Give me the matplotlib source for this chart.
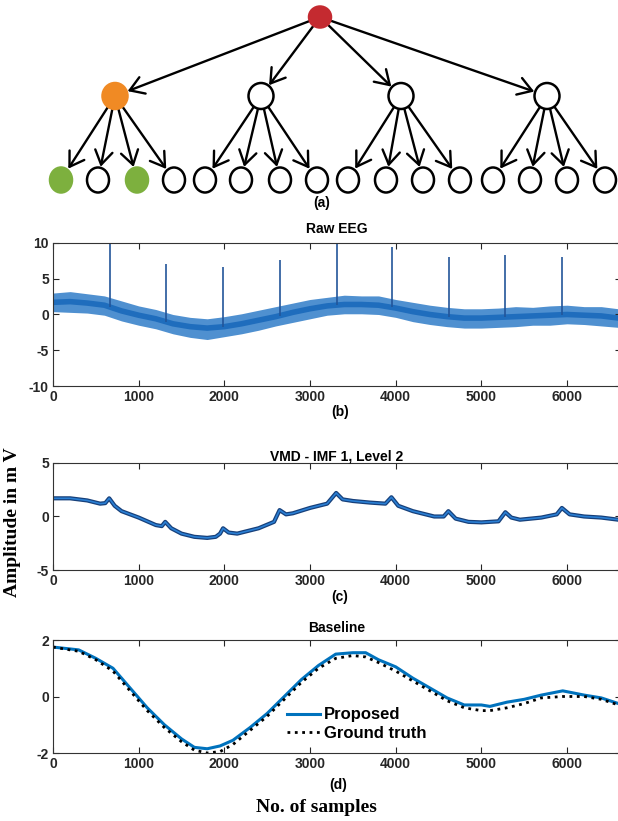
import numpy as np
import matplotlib
matplotlib.use("Agg")
import matplotlib.pyplot as plt
from matplotlib.patches import Ellipse, FancyArrowPatch

plt.rcParams['font.family'] = ['Liberation Sans', 'DejaVu Sans']
plt.rcParams['axes.unicode_minus'] = False

# ---- tree diagram (a) ----
root_xy = (320, 17)
level1_x = [115, 261, 401, 547]
level1_y = 96
leaf_x = [61, 98, 137, 174, 205, 241, 280, 317, 348, 386, 423, 460, 493, 530, 567, 605]
leaf_y = 180
level1_colors = ['#f08a24', 'white', 'white', 'white']
leaf_colors = ['#7db03e', 'white', '#7db03e'] + ['white'] * 13

# ---- raw EEG (b) ----
raw_x = [0, 200, 400, 600, 800, 1000, 1200, 1400, 1600, 1800, 2000, 2200, 2400, 2600, 2800,
         3000, 3200, 3400, 3600, 3800, 4000, 4200, 4400, 4600, 4800, 5000, 5200, 5400, 5600,
         5800, 6000, 6200, 6400, 6600]
raw_mid = [1.7, 1.8, 1.6, 1.3, 0.5, -0.1, -0.6, -1.3, -1.7, -1.9, -1.7, -1.3, -0.8, -0.3, 0.3,
           0.8, 1.2, 1.4, 1.4, 1.3, 0.9, 0.4, 0.0, -0.3, -0.5, -0.5, -0.4, -0.3, -0.2,
           -0.1, 0.0, -0.1, -0.2, -0.5]
raw_hi = [3.0, 3.2, 2.9, 2.6, 1.9, 1.2, 0.7, 0.0, -0.4, -0.6, -0.3, 0.1, 0.6, 1.1, 1.6,
          2.1, 2.4, 2.7, 2.6, 2.6, 2.1, 1.7, 1.3, 1.0, 0.8, 0.8, 0.9, 1.1, 1.0,
          1.2, 1.3, 1.1, 1.1, 0.8]
raw_lo = [0.4, 0.3, 0.2, -0.1, -0.9, -1.5, -2.0, -2.7, -3.2, -3.5, -3.1, -2.7, -2.2, -1.6, -1.1,
          -0.6, -0.1, 0.1, 0.1, 0.0, -0.4, -1.0, -1.4, -1.7, -1.9, -1.9, -1.8, -1.7, -1.5,
          -1.5, -1.3, -1.4, -1.6, -1.8]
spike_x = [660, 1320, 1990, 2650, 3310, 3960, 4620, 5280, 5940]
spike_peak = [10.0, 7.0, 6.7, 7.6, 10.0, 9.5, 8.0, 8.3, 8.0]

# ---- VMD IMF 1, level 2 (c) ----
vmd_x = [0, 200, 400, 550, 610, 656, 720, 800, 1000, 1200, 1270, 1310, 1380, 1500, 1650,
         1800, 1900, 1950, 1985, 2050, 2150, 2400, 2580, 2645, 2720, 2800, 3000, 3200, 3305,
         3380, 3500, 3700, 3880, 3950, 4030, 4200, 4450, 4560, 4615, 4700, 4850, 5000, 5200,
         5280, 5350, 5450, 5700, 5880, 5940, 6030, 6200, 6400, 6600]
vmd_y = [1.7, 1.7, 1.5, 1.2, 1.25, 1.7, 1.0, 0.5, -0.1, -0.8, -0.9, -0.5, -1.1, -1.6, -1.9,
         -2.0, -1.9, -1.6, -1.1, -1.5, -1.6, -1.1, -0.5, 0.6, 0.2, 0.3, 0.8, 1.2, 2.2,
         1.6, 1.45, 1.3, 1.2, 1.8, 1.0, 0.5, 0.0, 0.0, 0.5, -0.2, -0.5, -0.55, -0.45,
         0.4, -0.1, -0.3, -0.1, 0.2, 0.8, 0.2, 0.0, -0.1, -0.3]

# ---- baseline (d) ----
base_x = [0, 300, 500, 700, 900, 1100, 1300, 1500, 1650, 1800, 1950, 2100, 2300, 2500, 2700,
          2900, 3100, 3300, 3500, 3650, 3800, 4000, 4200, 4400, 4600, 4800, 5000, 5100, 5300,
          5500, 5700, 5950, 6200, 6400, 6600]
proposed = [1.75, 1.65, 1.35, 1.0, 0.3, -0.4, -1.0, -1.5, -1.8, -1.85, -1.75, -1.55, -1.1, -0.6, 0.0,
            0.6, 1.1, 1.5, 1.55, 1.55, 1.3, 1.05, 0.65, 0.3, -0.05, -0.3, -0.3, -0.35, -0.2,
            -0.1, 0.05, 0.2, 0.05, -0.05, -0.25]
ground_truth = [1.75, 1.6, 1.3, 0.9, 0.2, -0.5, -1.1, -1.6, -1.9, -2.0, -1.95, -1.7, -1.2, -0.7, -0.1,
                0.5, 1.0, 1.35, 1.45, 1.4, 1.2, 0.9, 0.55, 0.2, -0.15, -0.4, -0.5, -0.5, -0.4,
                -0.25, -0.05, 0.0, 0.0, -0.1, -0.3]

x_ticks = [0, 1000, 2000, 3000, 4000, 5000, 6000]
blue = '#0072BD'

W, H = 618, 821
fig = plt.figure(figsize=(W / 100, H / 100), dpi=100)

# tree axes in pixel coordinates
tree_h = 215
axt = fig.add_axes([0, 1 - tree_h / H, 1, tree_h / H])
axt.set_xlim(0, W)
axt.set_ylim(tree_h, 0)
axt.axis('off')


def draw_node(ax, xy, w, h, color):
    ax.add_patch(Ellipse(xy, w, h, facecolor=color, edgecolor='black' if color == 'white' else color,
                         lw=1.8, zorder=3))


def draw_edge(ax, p, c, rp, rc):
    p = np.array(p, float)
    c = np.array(c, float)
    d = (c - p) / np.linalg.norm(c - p)
    a = FancyArrowPatch(p + d * rp, c - d * (rc + 1), arrowstyle='->,head_length=0.55,head_width=0.35',
                        mutation_scale=18, lw=1.7, color='black', shrinkA=0, shrinkB=0, zorder=2)
    ax.add_patch(a)


draw_node(axt, root_xy, 22, 21, '#c42a30')
for i, mx in enumerate(level1_x):
    draw_edge(axt, root_xy, (mx, level1_y), 11, 12.5)
    draw_node(axt, (mx, level1_y), 25, 26, level1_colors[i])
    for j in range(4):
        lx = leaf_x[i * 4 + j]
        draw_edge(axt, (mx, level1_y), (lx, leaf_y), 12.5, 12.5)
for k, lx in enumerate(leaf_x):
    draw_node(axt, (lx, leaf_y), 22, 25, leaf_colors[k])
axt.text(322, 203, '(a)', ha='center', va='center', fontsize=10, fontweight='bold')

left = 53 / W
width = (621 - 53) / W


def style_axes(ax, ylim, yticks):
    ax.set_xlim(0, 6630)
    ax.set_ylim(*ylim)
    ax.set_xticks(x_ticks)
    ax.set_yticks(yticks)
    ax.tick_params(direction='in', length=4, width=0.8, top=True, right=True,
                   labelsize=10, pad=3, colors='#262626')
    for lab in ax.get_xticklabels() + ax.get_yticklabels():
        lab.set_fontweight('bold')
    for s in ax.spines.values():
        s.set_color('#333333')
        s.set_linewidth(0.8)


# (b) raw EEG
axb = fig.add_axes([left, 1 - 386 / H, width, (386 - 243) / H])
axb.fill_between(raw_x, raw_lo, raw_hi, color='#4f90d0', lw=0)
axb.plot(raw_x, raw_mid, color='#1f6dbd', lw=4, solid_capstyle='butt')
spike_base = np.interp(spike_x, raw_x, raw_mid)
axb.vlines(spike_x, spike_base, spike_peak, color='#22559a', lw=1.2)
style_axes(axb, (-10, 10), [-10, -5, 0, 5, 10])
axb.set_title('Raw EEG', fontsize=10, fontweight='bold', pad=7)
fig.text(340 / W, 1 - 412 / H, '(b)', ha='center', va='center', fontsize=10, fontweight='bold')

# (c) VMD
axc = fig.add_axes([left, 1 - 570 / H, width, (570 - 463) / H])
axc.plot(vmd_x, vmd_y, color='#17407a', lw=3.0, solid_joinstyle='round')
axc.plot(vmd_x, vmd_y, color='#2a7fd4', lw=1.2, solid_joinstyle='round')
style_axes(axc, (-5, 5), [-5, 0, 5])
axc.set_title('VMD - IMF 1, Level 2', fontsize=10, fontweight='bold', pad=2)
fig.text(340 / W, 1 - 597 / H, '(c)', ha='center', va='center', fontsize=10, fontweight='bold')

# (d) baseline
axd = fig.add_axes([left, 1 - 753 / H, width, (753 - 640) / H])
axd.plot(base_x, proposed, color=blue, lw=2.2, label='Proposed')
axd.plot(base_x, ground_truth, color='black', lw=2.0, ls=':', label='Ground truth')
style_axes(axd, (-2, 2), [-2, 0, 2])
axd.set_title('Baseline', fontsize=10, fontweight='bold', pad=6)
leg = axd.legend(loc='lower left', bbox_to_anchor=(0.40, 0.05), frameon=False,
                 prop={'weight': 'bold', 'size': 12}, handlelength=2.0, handletextpad=0.2,
                 labelspacing=0.2, borderaxespad=0)
fig.text(338 / W, 1 - 785 / H, '(d)', ha='center', va='center', fontsize=10, fontweight='bold')

fig.text(316 / W, 1 - 807 / H, 'No. of samples', ha='center', va='center', fontsize=14,
         fontweight='bold', family='Liberation Serif')
fig.text(13 / W, 1 - 522 / H, 'Amplitude in m V', ha='center', va='center', rotation=90,
         fontsize=14, fontweight='bold', family='Liberation Serif')

fig.savefig('out.png', dpi=100)
